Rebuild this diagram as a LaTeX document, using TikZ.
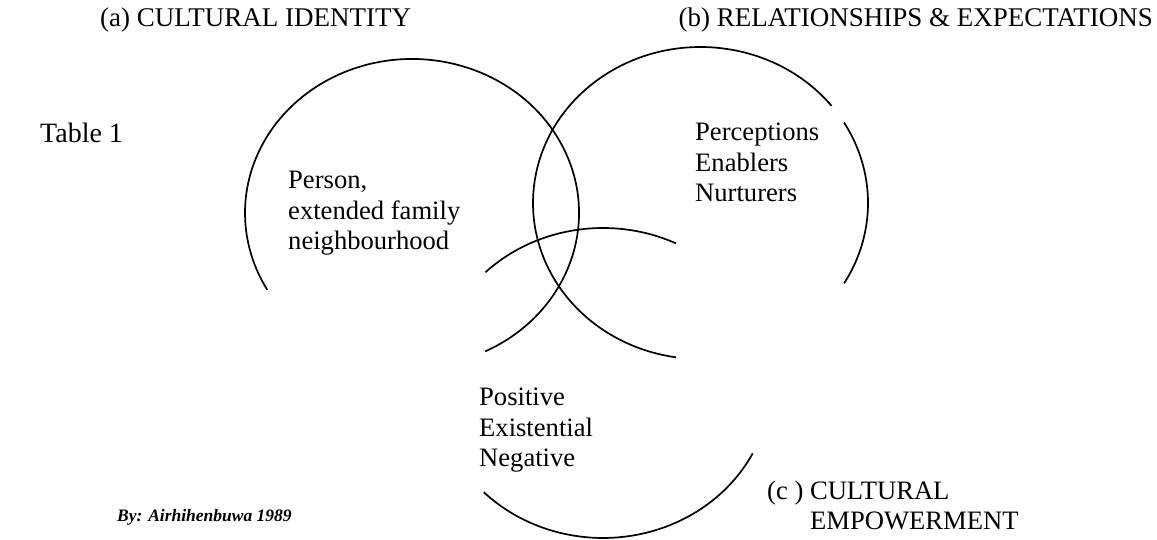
\documentclass[tikz,border=0pt]{standalone}
\usepackage{fontspec}
\setmainfont{Liberation Serif}
\begin{document}
\begin{tikzpicture}[x=1pt,y=1pt,
  ring/.style={line width=1.7pt, black},
  body/.style={inner sep=0pt, anchor=base west, align=left, font=\fontsize{26.6}{30.5}\selectfont},
  toplabel/.style={inner sep=0pt, font=\fontsize{27}{30}\selectfont}]
\path[use as bounding box] (0,0) rectangle (1157,540);
% circle A
\draw[ring] (412,327) ++(-64:167 and 154) arc[start angle=-64, end angle=210, x radius=167, y radius=154];
% circle B
\draw[ring] (700.5,337) ++(38.5:167.5 and 156) arc[start angle=38.5, end angle=261.6, x radius=167.5, y radius=156];
\draw[ring] (700.5,337) ++(-31:167.5 and 156) arc[start angle=-31, end angle=31, x radius=167.5, y radius=156];
% circle C
\draw[ring] (603,157) ++(64.2:168 and 155) arc[start angle=64.2, end angle=134.4, x radius=168, y radius=155];
\draw[ring] (603,157) ++(224.8:168 and 155) arc[start angle=224.8, end angle=333, x radius=168, y radius=155];
% labels
\node[toplabel, anchor=base west] (la) at (100,513) {(a) CULTURAL IDENTITY};
\node[toplabel, anchor=base east] (lb) at (1153,513) {(b) RELATIONSHIPS \& EXPECTATIONS};
\node[inner sep=0pt, anchor=base west, font=\fontsize{28}{32}\selectfont] (tab) at (40,397) {Table 1};
\node[body] (pa) at (288,290) {Person,\\extended family\\neighbourhood};
\node[body] (pb) at (695,338) {Perceptions\\Enablers\\Nurturers};
\node[body] (pc) at (479,73) {Positive\\Existential\\Negative};
\node[body] (lc) at (767,10) {(c ) CULTURAL\\\hspace*{43pt}EMPOWERMENT};
\node[inner sep=0pt, anchor=base west, font=\fontsize{17.5}{20}\selectfont\bfseries\itshape] (by) at (117,18) {By: Airhihenbuwa 1989};
\end{tikzpicture}
\end{document}
